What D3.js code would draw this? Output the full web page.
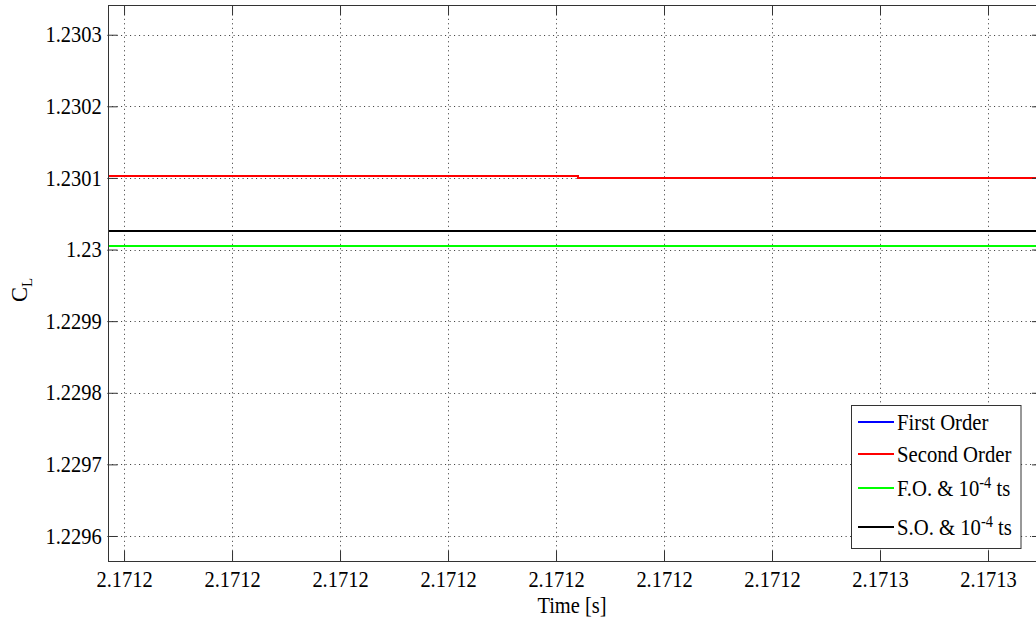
<!DOCTYPE html>
<html>
<head>
<meta charset="utf-8">
<script src="https://cdn.jsdelivr.net/npm/d3@7"></script>
<style>
    body { margin: 0; background: #fff; }
    text { font-family: "Liberation Serif", "Times New Roman", serif; fill: #000; }
</style>
</head>
<body>
<div id="chart"></div>
<script>
// axis ranges and ticks
const timeRange = [2.1712366956, 2.1712540];
const clRange = [1.22956508, 1.23034106];
const xTicks = [2.171237, 2.171239, 2.171241, 2.171243, 2.171245, 2.171247, 2.171249, 2.171251, 2.171253];
const xTickLabels = ["2.1712", "2.1712", "2.1712", "2.1712", "2.1712", "2.1712", "2.1712", "2.1713", "2.1713"];
const yTicks = [1.2296, 1.2297, 1.2298, 1.2299, 1.2300, 1.2301, 1.2302, 1.2303];
const yTickLabels = ["1.2296", "1.2297", "1.2298", "1.2299", "1.23", "1.2301", "1.2302", "1.2303"];

// series
const time = [2.1712366956, 2.1712454, 2.1712540];
const firstOrder = [1.2301020, 1.2301006, 1.2301006];
const secondOrder = [1.2301020, 1.2301006, 1.2301006];
const foSmallTs = [1.2300053, 1.2300053, 1.2300053];
const soSmallTs = [1.2300258, 1.2300258, 1.2300258];

const seriesNames = ["First Order", "Second Order", "F.O. & 10^-4 ts", "S.O. & 10^-4 ts"];
const seriesColors = ["#0000ff", "#ff0000", "#00ff00", "#000000"];
const seriesValues = [firstOrder, secondOrder, foSmallTs, soSmallTs];

const width = 1036, height = 623;
const margin = { left: 107.6, top: 5.3, right: 1042, bottom: 561 };
const fontSize = 22.5;
const squeeze = 0.91; // the glyphs in the original are narrow
const serif = "'Liberation Serif', 'Times New Roman', serif";

const svg = d3.select("#chart")
    .append("svg")
    .attr("width", width)
    .attr("height", height)
    .attr("font-family", serif);

const x = d3.scaleLinear().domain(timeRange).range([margin.left, margin.right]);
const y = d3.scaleLinear().domain(clRange).range([margin.bottom, margin.top]);

svg.append("defs").append("clipPath")
    .attr("id", "plot-clip")
    .append("rect")
    .attr("x", margin.left)
    .attr("y", margin.top)
    .attr("width", margin.right - margin.left)
    .attr("height", margin.bottom - margin.top);

// dotted grid
const grid = svg.append("g")
    .attr("stroke", "#333")
    .attr("stroke-width", 1)
    .attr("stroke-dasharray", "1,3.5");

grid.selectAll(".vgrid")
    .data(xTicks)
    .enter()
    .append("line")
    .attr("x1", (d) => Math.round(x(d)) + 0.5)
    .attr("x2", (d) => Math.round(x(d)) + 0.5)
    .attr("y1", margin.top)
    .attr("y2", margin.bottom);

grid.selectAll(".hgrid")
    .data(yTicks)
    .enter()
    .append("line")
    .attr("y1", (d) => Math.round(y(d)) + 0.5)
    .attr("y2", (d) => Math.round(y(d)) + 0.5)
    .attr("x1", margin.left)
    .attr("x2", margin.right);

// series lines (blue sits right under red)
const line = d3.line()
    .x((d) => x(d[0]))
    .y((d) => y(d[1]))
    .curve(d3.curveStepAfter);

svg.append("g")
    .attr("clip-path", "url(#plot-clip)")
    .selectAll("path")
    .data(seriesValues)
    .enter()
    .append("path")
    .attr("d", (vals) => line(vals.map((v, i) => [time[i], v])))
    .attr("fill", "none")
    .attr("stroke", (d, i) => seriesColors[i])
    .attr("stroke-width", 2)
    .attr("shape-rendering", "crispEdges");

// axes, ticks pointing inward
function styleAxis(g) {
    g.attr("font-family", serif);
    g.select(".domain").remove();
    g.selectAll(".tick line").attr("stroke", "#333");
    g.selectAll(".tick text")
        .attr("fill", "#000")
        .style("font-size", fontSize + "px")
        .style("font-family", serif)
        .attr("transform", `scale(${squeeze},1)`);
}

svg.append("g")
    .attr("transform", `translate(0,${margin.bottom})`)
    .call(d3.axisBottom(x).tickValues(xTicks).tickSizeInner(-10).tickSizeOuter(0).tickPadding(10)
        .tickFormat((d, i) => xTickLabels[i]))
    .call(styleAxis);

svg.append("g")
    .attr("transform", `translate(0,${margin.top})`)
    .call(d3.axisTop(x).tickValues(xTicks).tickSizeInner(-10).tickSizeOuter(0).tickFormat(""))
    .call(styleAxis);

svg.append("g")
    .attr("transform", `translate(${margin.left},0)`)
    .call(d3.axisLeft(y).tickValues(yTicks).tickSizeInner(-10).tickSizeOuter(0).tickPadding(6.5)
        .tickFormat((d, i) => yTickLabels[i]))
    .call(styleAxis);

svg.append("g")
    .attr("transform", `translate(${margin.right},0)`)
    .call(d3.axisRight(y).tickValues(yTicks).tickSizeInner(-10).tickSizeOuter(0).tickFormat(""))
    .call(styleAxis);

// box
svg.append("rect")
    .attr("x", Math.round(margin.left) + 0.5)
    .attr("y", Math.round(margin.top) + 0.5)
    .attr("width", margin.right - margin.left)
    .attr("height", Math.round(margin.bottom) - Math.round(margin.top))
    .attr("fill", "none")
    .attr("stroke", "#333");

// axis titles
svg.append("text")
    .attr("transform", `translate(572,613) scale(${squeeze},1)`)
    .attr("text-anchor", "middle")
    .style("font-size", fontSize + "px")
    .text("Time [s]");

const yLabel = svg.append("text")
    .attr("transform", "translate(27,290) rotate(-90)")
    .attr("text-anchor", "middle")
    .style("font-size", fontSize + "px");
yLabel.append("tspan").text("C");
yLabel.append("tspan").attr("dy", 5).style("font-size", "15px").text("L");

// legend
const legendRows = [422, 454, 488, 527];
const legend = svg.append("g");

legend.append("rect")
    .attr("x", 851.5)
    .attr("y", 405.5)
    .attr("width", 169.5)
    .attr("height", 143)
    .attr("fill", "#fff")
    .attr("stroke", "#333");

seriesNames.forEach((name, i) => {
    const ry = legendRows[i];
    legend.append("line")
        .attr("x1", 858)
        .attr("x2", 894)
        .attr("y1", ry)
        .attr("y2", ry)
        .attr("stroke", seriesColors[i])
        .attr("stroke-width", 2)
        .attr("shape-rendering", "crispEdges");

    const t = legend.append("text")
        .attr("transform", `translate(897,${ry + 8}) scale(0.9,1)`)
        .style("font-size", "23px");

    const parts = name.split(/\^(-?\d+)/);
    if (parts.length === 1) {
        t.text(name);
    } else {
        t.append("tspan").text(parts[0]);
        t.append("tspan").attr("dy", -8).style("font-size", "16px").text(parts[1]);
        t.append("tspan").attr("dy", 8).text(parts[2]);
    }
});
</script>
</body>
</html>
